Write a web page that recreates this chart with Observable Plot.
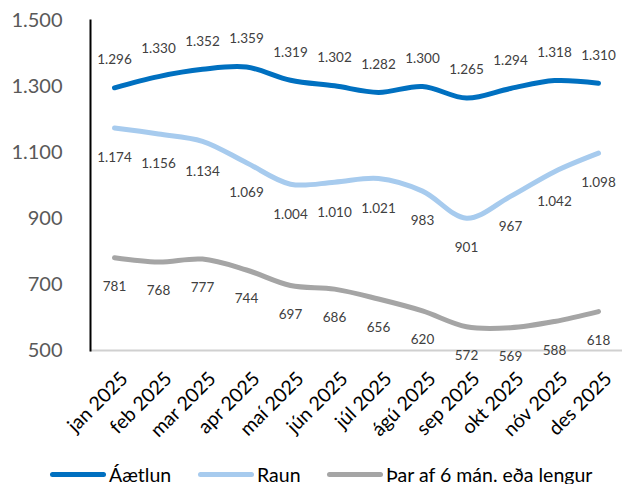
<!DOCTYPE html>
<html>
<head>
<meta charset="utf-8">
<script src="https://cdn.jsdelivr.net/npm/d3@7"></script>
<script src="https://cdn.jsdelivr.net/npm/@observablehq/plot@0.6"></script>
<style>
  html, body { margin: 0; padding: 0; background: #fff; }
  body { width: 622px; height: 484px; overflow: hidden; font-family: Lato, "Open Sans", sans-serif; position: relative; }
  #legend { position: absolute; left: 0; top: 450px; width: 622px; height: 48px; font-size: 19.5px; color: #000; }
  .item { position: absolute; top: 0; height: 48px; display: flex; align-items: center; white-space: nowrap; }
  .sw { width: 56px; height: 5px; border-radius: 3px; margin-right: 3px; flex: none; }
</style>
</head>
<body>
<div id="chart"></div>
<div id="legend"></div>
<script>
const months = ["jan 2025","feb 2025","mar 2025","apr 2025","maí 2025","jún 2025","júl 2025","ágú 2025","sep 2025","okt 2025","nóv 2025","des 2025"];
const seriesNames = ["Áætlun","Raun","Þar af 6 mán. eða lengur"];
const seriesColors = ["#0070C0","#A7CBEE","#A5A5A5"];
const aaetlun = [1296,1330,1352,1359,1319,1302,1282,1300,1265,1294,1318,1310];
const raun = [1174,1156,1134,1069,1004,1010,1021,983,901,967,1042,1098];
const lengur = [781,768,777,744,697,686,656,620,572,569,588,618];
const yTicks = [500,700,900,1100,1300,1500];

const fmt = d3.formatLocale({decimal: ",", thousands: ".", grouping: [3], currency: ["",""]}).format(",d");

const allSeries = [aaetlun, raun, lengur];
const data = allSeries.flatMap((vals, s) => vals.map((v, i) => ({month: months[i], value: v, series: seriesNames[s]})));
const bySeries = name => data.filter(d => d.series === name);

const labelDy = [-28, 30, 29];
const legendLeft = [50, 198, 327];

const chart = Plot.plot({
  width: 622,
  height: 450,
  marginLeft: 90,
  marginRight: 0,
  marginTop: 20,
  marginBottom: 100,
  style: {fontFamily: "Lato, 'Open Sans', sans-serif", background: "#fff"},
  x: {type: "point", domain: months, padding: 0.5, label: null},
  y: {domain: [500, 1500], label: null},
  color: {domain: seriesNames, range: seriesColors},
  marks: [
    Plot.ruleY([500], {stroke: "#D0D0D0", strokeWidth: 2}),
    Plot.frame({anchor: "left", stroke: "#000", strokeWidth: 2}),
    Plot.axisY({ticks: yTicks, tickSize: 0, tickPadding: 28, fontSize: 20, color: "#595959", label: null, tickFormat: fmt}),
    Plot.axisX({tickSize: 0, tickRotate: -45, tickPadding: 25, dx: 10, fontSize: 19.5, color: "#000", label: null}),
    ...seriesNames.map((name, s) => Plot.line(bySeries(name), {
      x: "month", y: "value", stroke: seriesColors[s], strokeWidth: 5, curve: "catmull-rom", strokeLinecap: "round"
    })),
    ...seriesNames.map((name, s) => Plot.text(bySeries(name), {
      x: "month", y: "value", text: d => fmt(d.value), dy: labelDy[s], fontSize: 13.5, fill: "#404040"
    }))
  ]
});
document.getElementById("chart").appendChild(chart);

const legend = document.getElementById("legend");
seriesNames.forEach((name, s) => {
  const item = document.createElement("div");
  item.className = "item";
  item.style.left = legendLeft[s] + "px";
  const sw = document.createElement("div");
  sw.className = "sw";
  sw.style.background = seriesColors[s];
  const t = document.createElement("span");
  t.textContent = name;
  item.appendChild(sw);
  item.appendChild(t);
  legend.appendChild(item);
});
</script>
</body>
</html>
